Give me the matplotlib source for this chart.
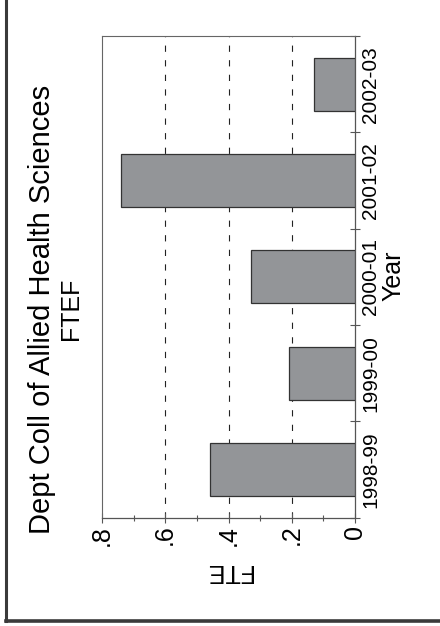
import matplotlib
matplotlib.use("Agg")
import matplotlib.pyplot as plt
from matplotlib.lines import Line2D

plt.rcParams["font.family"] = ["Liberation Sans", "DejaVu Sans"]
plt.rcParams["lines.scale_dashes"] = False

# data
years = ["1998-99", "1999-00", "2000-01", "2001-02", "2002-03"]
ftef = [0.46, 0.21, 0.33, 0.74, 0.13]
value_ticks = [0, 0.2, 0.4, 0.6, 0.8]
value_labels = ["0", ".2", ".4", ".6", ".8"]
minor_value_ticks = [0.1, 0.3, 0.5, 0.7]
grid_values = [0.2, 0.4, 0.6]

W, H = 440, 626
C_BAR = "#939598"
C_AXIS = "#555555"
C_FRAME = "#666666"


def px(x, y):
    # pixel coords (top-left origin) -> figure fraction
    return x / W, 1 - y / H


fig = plt.figure(figsize=(W / 100, H / 100), dpi=100)
fig.patch.set_facecolor("white")
ax = fig.add_axes([102 / W, 1 - 517.7 / H, 253 / W, 481.7 / H])

pos = list(range(1, len(years) + 1))
ax.barh(pos, ftef, height=0.55, color=C_BAR, edgecolor="#333333",
        linewidth=0.9, zorder=3)
for g in grid_values:
    ax.axvline(g, color="#222222", lw=0.8, linestyle=(0, (4.5, 6.0)), zorder=1)

ax.set_xlim(0.8, 0)
ax.set_ylim(0.5, len(years) + 0.5)

# value axis (bottom)
ax.set_xticks(value_ticks)
ax.set_xticklabels(value_labels, rotation=90, fontsize=18)
ax.set_xticks(minor_value_ticks, minor=True)
ax.tick_params(axis="x", which="major", direction="inout", length=7,
               width=0.8, color=C_AXIS, pad=1.5)
ax.tick_params(axis="x", which="minor", direction="inout", length=4,
               width=0.8, color=C_AXIS)
for lab in ax.get_xticklabels():
    lab.set_ha("center")
    lab.set_va("top")

# category axis (right)
ax.yaxis.tick_right()
ax.set_yticks([p - 0.5 for p in pos] + [len(years) + 0.5])
ax.set_yticklabels([])
ax.set_yticks(pos, minor=True)
ax.set_yticklabels(years, minor=True, fontsize=15, rotation=90)
ax.tick_params(axis="y", which="major", direction="inout", length=7,
               width=0.8, color=C_AXIS)
ax.tick_params(axis="y", which="minor", length=0, pad=4.5)
for lab in ax.get_yticklabels(minor=True):
    lab.set_ha("left")
    lab.set_va("center")

for side in ("right", "bottom"):
    ax.spines[side].set_color(C_AXIS)
    ax.spines[side].set_linewidth(0.9)
for side in ("left", "top"):
    ax.spines[side].set_color(C_FRAME)
    ax.spines[side].set_linewidth(0.8)

# titles and axis titles (whole graph is turned 90 degrees)
fig.text(*px(42, 309), "Dept Coll of Allied Health Sciences", rotation=90,
         ha="center", va="center", fontsize=21)
fig.text(*px(71, 309), "FTEF", rotation=90, ha="center", va="center",
         fontsize=18)
fig.text(*px(393, 276), "Year", rotation=90, ha="center", va="center",
         fontsize=18)
fig.text(*px(228.5, 571), "FTE", rotation=180, ha="center", va="center",
         fontsize=18)

# outer border (left and bottom edges visible)
fig.add_artist(Line2D([5.5 / W, 5.5 / W], [1, 1 - 620.5 / H],
                      transform=fig.transFigure, color="#3a3a3a", lw=2.2))
fig.add_artist(Line2D([5.5 / W, 1], [1 - 620.5 / H, 1 - 620.5 / H],
                      transform=fig.transFigure, color="#3a3a3a", lw=2.6))

fig.savefig("out.png", dpi=100, facecolor="white")
